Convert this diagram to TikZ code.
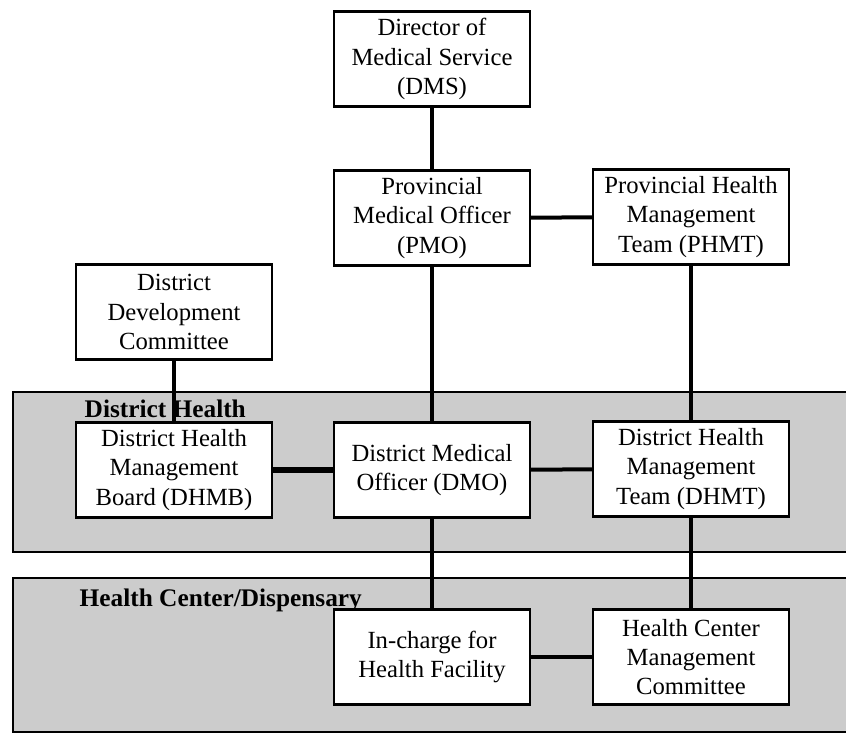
\documentclass[tikz,border=0pt]{standalone}
\usepackage{fontspec}
\setmainfont{Liberation Serif}
\begin{document}
\begin{tikzpicture}[x=0.75pt,y=-0.75pt,
  box/.style={draw,fill=white,line width=1.8pt,align=center,minimum width=147pt,minimum height=71pt,inner sep=1pt,font=\fontsize{18.5}{22}\selectfont},
  band/.style={fill=gray!40,draw=black,line width=1.8pt},
  bandlabel/.style={anchor=west,font=\fontsize{19}{22}\selectfont\bfseries},
  link/.style={line width=3pt}]
\useasboundingbox (0,0) rectangle (846,735);
  % shaded levels
  \fill[band] (13,392) rectangle (852,552);
  \fill[band] (13,578) rectangle (852,732);
  \node[bandlabel] (dlabel) at (80,409) {District Health};
  \node[bandlabel] (hlabel) at (75,600) {Health Center/Dispensary};
  % boxes
  \node[box] (dms) at (432,59) {Director of\\Medical Service\\(DMS)};
  \node[box] (pmo) at (432,218) {Provincial\\Medical Officer\\(PMO)};
  \node[box] (phmt) at (691,217) {Provincial Health\\Management\\Team (PHMT)};
  \node[box] (ddc) at (174,312) {District\\Development\\Committee};
  \node[box] (dhmb) at (174,470) {District Health\\Management\\Board (DHMB)};
  \node[box] (dmo) at (432,470) {District Medical\\Officer (DMO)};
  \node[box] (dhmt) at (691,469) {District Health\\Management\\Team (DHMT)};
  \node[box] (inch) at (432,657) {In-charge for\\Health Facility};
  \node[box] (hcmc) at (691,657) {Health Center\\Management\\Committee};
  % links
  \draw[link] (dms) -- (pmo);
  \draw[link] (pmo) -- (phmt);
  \draw[link] (pmo) -- (dmo);
  \draw[link] (phmt) -- (dhmt);
  \draw[link] (ddc) -- (dhmb);
  \draw[link,line width=4.5pt] (dhmb) -- (dmo);
  \draw[link] (dmo) -- (dhmt);
  \draw[link] (dmo) -- (inch);
  \draw[link] (dhmt) -- (hcmc);
  \draw[link] (inch) -- (hcmc);
\end{tikzpicture}
\end{document}
